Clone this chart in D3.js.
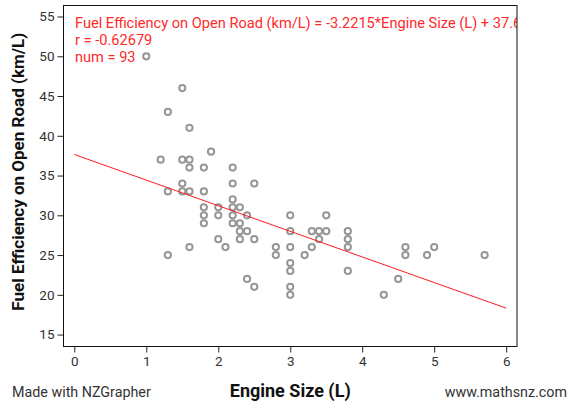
<!DOCTYPE html>
<html>
<head>
<meta charset="utf-8">
<script src="https://cdn.jsdelivr.net/npm/d3@7"></script>
<style>
  html, body { margin: 0; padding: 0; background: #fff; }
  svg { display: block; font-family: Roboto, "Noto Sans", sans-serif; }
</style>
</head>
<body>
<svg id="chart" width="569" height="406"></svg>
<script>
// Engine size (L) and open-road fuel efficiency (km/L) for each car
const engineSize = [
  1.0, 1.5, 1.3, 1.6, 1.9, 1.2, 1.5, 1.6, 1.6, 1.8,
  2.2, 1.5, 2.2, 2.5, 1.3, 1.5, 1.6, 1.8, 2.2, 1.8,
  2.0, 2.2, 2.3, 1.8, 2.0, 2.2, 2.4, 1.8, 2.2, 2.3,
  2.3, 2.4, 2.0, 2.3, 2.5, 1.6, 2.1, 1.3, 2.4, 2.5,
  3.0, 3.0, 3.0, 3.0, 3.0, 3.0, 3.0, 2.8, 2.8, 3.2,
  3.3, 3.3, 3.4, 3.4, 3.5, 3.5, 3.8, 3.8, 3.8, 3.8,
  4.3, 4.5, 4.6, 4.6, 4.9, 5.0, 5.7
];
const fuelOpenRoad = [
  50, 46, 43, 41, 38, 37, 37, 37, 36, 36,
  36, 34, 34, 34, 33, 33, 33, 33, 32, 31,
  31, 31, 31, 30, 30, 30, 30, 29, 29, 29,
  28, 28, 27, 27, 27, 26, 26, 25, 22, 21,
  30, 28, 26, 24, 23, 21, 20, 26, 25, 25,
  28, 26, 28, 27, 30, 28, 28, 27, 26, 23,
  20, 22, 26, 25, 25, 26, 25
];

// Least-squares fit reported by the grapher
const fitSlope = -3.2215;
const fitIntercept = 37.65;
const fitRange = [0, 6];
const statLines = [
  "Fuel Efficiency on Open Road (km/L) = -3.2215*Engine Size (L) + 37.6",
  "r = -0.62679",
  "num = 93"
];

const xTicks = [0, 1, 2, 3, 4, 5, 6];
const yTicks = [15, 20, 25, 30, 35, 40, 45, 50, 55];

const svg = d3.select("#chart");
const box = { left: 63.5, right: 517, top: 5, bottom: 346.5 };

const x = d3.scaleLinear().domain([-0.15, 6.15]).range([box.left, box.right]);
const y = d3.scaleLinear().domain([13.5, 56.45]).range([box.bottom, box.top]);

svg.append("defs").append("clipPath").attr("id", "plotClip")
  .append("rect")
  .attr("x", box.left).attr("y", box.top)
  .attr("width", box.right - box.left).attr("height", box.bottom - box.top);

// Axes (ticks sit outside the plot frame)
const xAxis = svg.append("g")
  .attr("transform", `translate(0,${box.bottom})`)
  .call(d3.axisBottom(x).tickValues(xTicks).tickFormat(d3.format("d"))
    .tickSize(6).tickSizeOuter(0).tickPadding(4));
const yAxis = svg.append("g")
  .attr("transform", `translate(${box.left},0)`)
  .call(d3.axisLeft(y).tickValues(yTicks).tickFormat(d3.format("d"))
    .tickSize(6).tickSizeOuter(0).tickPadding(3));

[xAxis, yAxis].forEach(g => {
  g.select(".domain").remove();
  g.selectAll(".tick line").attr("stroke", "#222");
  g.selectAll(".tick text")
    .attr("fill", "#333")
    .style("font-size", "13.5px")
    .style("font-family", "Roboto, sans-serif");
});

// Data points
const pts = engineSize.map((e, i) => ({ e, f: fuelOpenRoad[i] }));
svg.append("g").selectAll("circle")
  .data(pts)
  .join("circle")
  .attr("cx", d => x(d.e))
  .attr("cy", d => y(d.f))
  .attr("r", 3.1)
  .attr("fill", "none")
  .attr("stroke", "#969696")
  .attr("stroke-width", 2);

// Fitted line
const line = d3.line().x(d => x(d)).y(d => y(fitSlope * d + fitIntercept));
svg.append("path")
  .datum(fitRange)
  .attr("d", line)
  .attr("fill", "none")
  .attr("stroke", "#ff1a1a")
  .attr("stroke-width", 1);

// Regression summary, clipped to the plot frame
svg.append("g").attr("clip-path", "url(#plotClip)")
  .selectAll("text")
  .data(statLines)
  .join("text")
  .attr("x", 75)
  .attr("y", (d, i) => 28 + i * 17)
  .attr("fill", "#ff2a2a")
  .style("font-size", "14.6px")
  .text(d => d);

// Plot frame
svg.append("rect")
  .attr("x", box.left).attr("y", box.top + 0.5)
  .attr("width", box.right - box.left).attr("height", box.bottom - box.top - 0.5)
  .attr("fill", "none")
  .attr("stroke", "#111")
  .attr("stroke-width", 1);

// Axis titles
svg.append("text")
  .attr("transform", `translate(24,${(box.top + box.bottom) / 2 - 4}) rotate(-90)`)
  .attr("text-anchor", "middle")
  .attr("fill", "#111")
  .style("font-size", "17px")
  .style("font-weight", "bold")
  .text("Fuel Efficiency on Open Road (km/L)");

svg.append("text")
  .attr("x", (box.left + box.right) / 2)
  .attr("y", 397)
  .attr("text-anchor", "middle")
  .attr("fill", "#111")
  .style("font-size", "18px")
  .style("font-weight", "bold")
  .text("Engine Size (L)");

// Footer credits
svg.append("text")
  .attr("x", 12).attr("y", 397)
  .attr("fill", "#333")
  .style("font-size", "14.3px")
  .text("Made with NZGrapher");

svg.append("text")
  .attr("x", 567).attr("y", 397)
  .attr("text-anchor", "end")
  .attr("fill", "#333")
  .style("font-size", "14.3px")
  .text("www.mathsnz.com");
</script>
</body>
</html>
